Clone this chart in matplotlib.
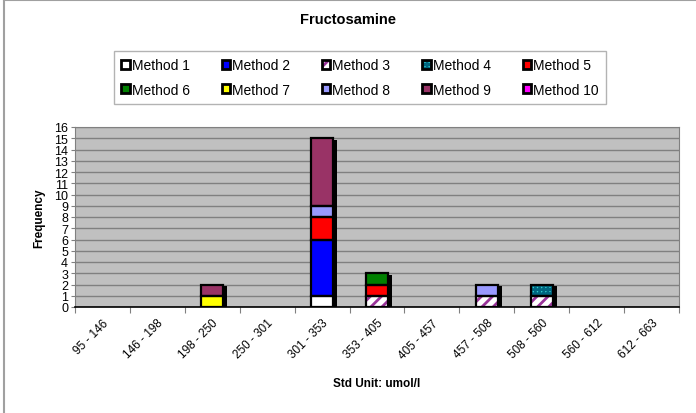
import matplotlib.pyplot as plt
import numpy as np
from matplotlib.patches import Patch
from matplotlib.lines import Line2D

plt.rcParams['font.family'] = ['Liberation Sans', 'DejaVu Sans']
plt.rcParams['hatch.linewidth'] = 2.0

categories = ["95 - 146", "146 - 198", "198 - 250", "250 - 301", "301 - 353", "353 - 405",
              "405 - 457", "457 - 508", "508 - 560", "560 - 612", "612 - 663"]
methods = ["Method %d" % i for i in range(1, 11)]

m1 = [0, 0, 0, 0, 1, 0, 0, 0, 0, 0, 0]
m2 = [0, 0, 0, 0, 5, 0, 0, 0, 0, 0, 0]
m3 = [0, 0, 0, 0, 0, 1, 0, 1, 1, 0, 0]
m4 = [0, 0, 0, 0, 0, 0, 0, 0, 1, 0, 0]
m5 = [0, 0, 0, 0, 2, 1, 0, 0, 0, 0, 0]
m6 = [0, 0, 0, 0, 0, 1, 0, 0, 0, 0, 0]
m7 = [0, 0, 1, 0, 0, 0, 0, 0, 0, 0, 0]
m8 = [0, 0, 0, 0, 1, 0, 0, 1, 0, 0, 0]
m9 = [0, 0, 1, 0, 6, 0, 0, 0, 0, 0, 0]
m10 = [0, 0, 0, 0, 0, 0, 0, 0, 0, 0, 0]
counts = [m1, m2, m3, m4, m5, m6, m7, m8, m9, m10]

# fill colour, hatch, hatch colour
styles = [("#FFFFFF", None, None),
          ("#0000FF", None, None),
          ("#FFFFFF", "///", "#993399"),
          ("#33CCCC", "++++", "#006680"),
          ("#FF0000", None, None),
          ("#008000", None, None),
          ("#FFFF00", None, None),
          ("#9999FF", None, None),
          ("#993366", None, None),
          ("#FF00FF", None, None)]

fig = plt.figure(figsize=(6.96, 4.14), dpi=100)
ax = fig.add_axes([75 / 696, 1 - 308 / 414, 604 / 696, 180 / 414])
ax.set_facecolor("#C0C0C0")

x = np.arange(len(categories)) + 0.5
w = 0.4
totals = np.sum(counts, axis=0)

# drop shadow
for xi, t in zip(x, totals):
    if t > 0:
        ax.bar(xi + 0.075, t - 0.17, w, color="black", zorder=2)

bottom = np.zeros(len(categories))
for vals, (fc, hatch, hc) in zip(counts, styles):
    vals = np.array(vals)
    if hatch:
        ax.bar(x, vals, w, bottom=bottom, color=fc, hatch=hatch, edgecolor=hc, linewidth=0, zorder=3)
    else:
        ax.bar(x, vals, w, bottom=bottom, color=fc, linewidth=0, zorder=3)
    mask = vals > 0
    ax.bar(x[mask], vals[mask], w, bottom=bottom[mask], fill=False, edgecolor="black",
           linewidth=1.6, zorder=4)
    bottom += vals

ax.set_xlim(0, len(categories))
ax.set_ylim(0, 16)
ax.set_yticks(range(17))
ax.yaxis.grid(True, color="#808080", linewidth=1)
ax.set_axisbelow(True)
ax.set_xticks(np.arange(len(categories) + 1), minor=False)
ax.set_xticklabels([])
ax.set_xticks(x, minor=True)
ax.set_xticklabels(categories, minor=True, rotation=45, ha="right", rotation_mode="anchor", fontsize=8.5)
ax.tick_params(axis="x", which="major", length=4, color="#808080")
ax.tick_params(axis="x", which="minor", length=0, pad=7)
ax.tick_params(axis="y", length=3, labelsize=9, pad=2, color="#808080")
for s in ["top", "right", "left"]:
    ax.spines[s].set_color("#808080")
ax.spines["bottom"].set_color("black")
ax.spines["bottom"].set_linewidth(1.2)

ax.set_ylabel("Frequency", fontsize=8.5, fontweight="bold", labelpad=6)
ax.set_xlabel("Std Unit: umol/l", fontsize=8.5, fontweight="bold", labelpad=12)
fig.text(0.5, 1 - 20 / 414, "Fructosamine", ha="center", va="center", fontsize=10.5, fontweight="bold")

handles = []
for (fc, hatch, hc) in styles:
    if hatch:
        handles.append((Patch(facecolor=fc, hatch=hatch, edgecolor=hc, linewidth=0),
                        Patch(fill=False, edgecolor="black", linewidth=2)))
    else:
        handles.append(Patch(facecolor=fc, edgecolor="black", linewidth=2))
order = [0, 5, 1, 6, 2, 7, 3, 8, 4, 9]
leg = fig.legend([handles[i] for i in order], [methods[i] for i in order], ncol=5,
                 loc="center", bbox_to_anchor=(360 / 696, 1 - 78.5 / 414), fontsize=10,
                 frameon=True, fancybox=False, edgecolor="#A0A0A0", handlelength=0.6,
                 handleheight=0.6, handletextpad=0.15, columnspacing=2.3, labelspacing=0.75,
                 borderpad=0.55)
leg.get_frame().set_linewidth(1)

# chart area border
fig.add_artist(Line2D([4 / 696, 4 / 696], [0, 1], color="#A0A0A0", linewidth=1.5))
fig.add_artist(Line2D([4 / 696, 1], [1 - 1 / 414, 1 - 1 / 414], color="#A0A0A0", linewidth=1.5))

fig.savefig("out.png", dpi=100)
